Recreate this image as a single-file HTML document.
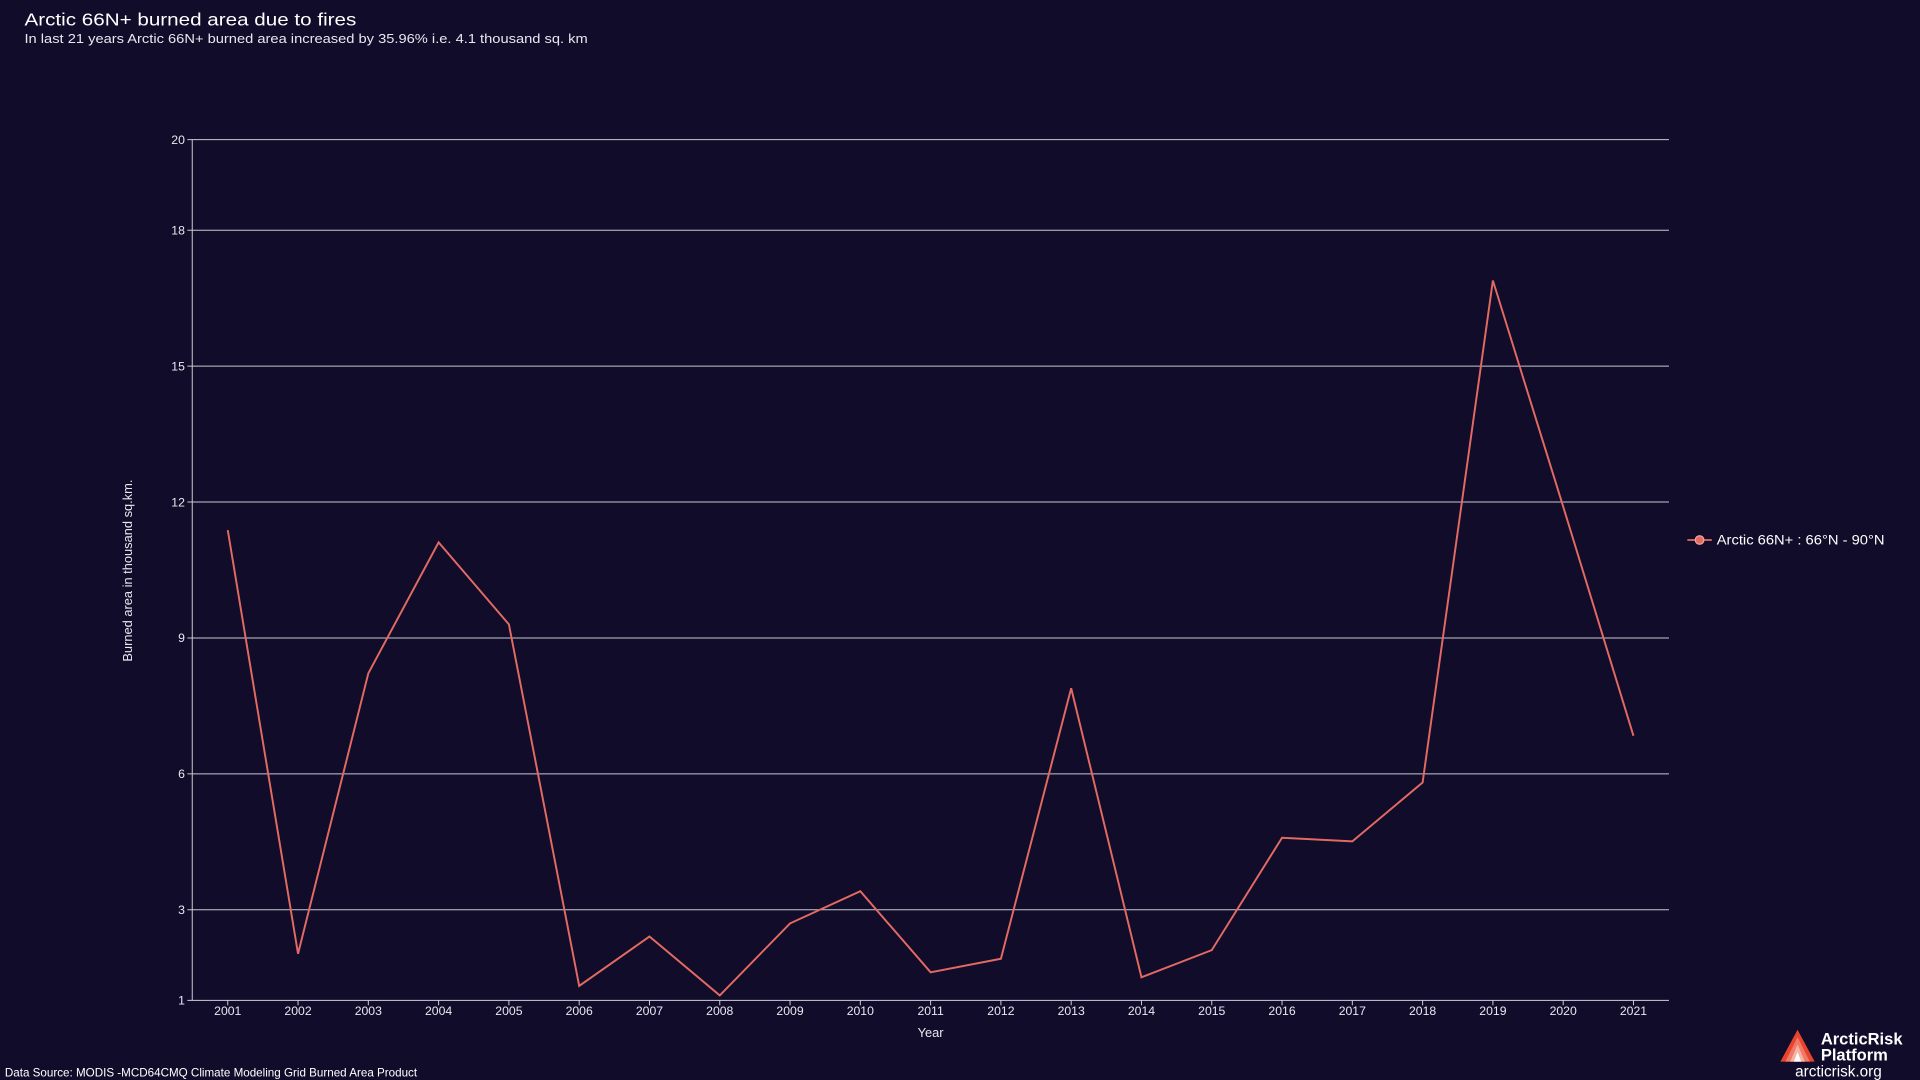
<!DOCTYPE html>
<html><head><meta charset="utf-8"><style>
html,body{margin:0;padding:0;background:#100c2a;width:1920px;height:1080px;overflow:hidden}
svg{display:block;font-family:"Liberation Sans",sans-serif}
</style></head><body>
<svg id="chart" width="1920" height="1080" viewBox="0 0 1568 882" xmlns="http://www.w3.org/2000/svg">
<rect width="1568" height="882" fill="#100c2a"/>
<text x="20" y="21" fill="#ffffff" font-size="14.5" textLength="271" lengthAdjust="spacingAndGlyphs">Arctic 66N+ burned area due to fires</text>
<text x="20" y="35" fill="#e8e8f0" font-size="10.5" textLength="460" lengthAdjust="spacingAndGlyphs">In last 21 years Arctic 66N+ burned area increased by 35.96% i.e. 4.1 thousand sq. km</text>
<g id="grid"></g>
<g id="xaxis"></g>
<path id="line" fill="none" stroke="#e26a62" stroke-width="1.6"/>
<text transform="translate(108,466) rotate(-90)" text-anchor="middle" fill="#e8e8f0" font-size="10.5">Burned area in thousand sq.km.</text>
<text x="760" y="847" text-anchor="middle" fill="#e8e8f0" font-size="10.5">Year</text>
<g>
<line x1="1378" y1="441" x2="1398" y2="441" stroke="#e26a62" stroke-width="1.5"/>
<circle cx="1388" cy="441" r="3.5" fill="#e26a62" stroke="#f3a49c" stroke-width="1"/>
<text x="1402" y="444.5" fill="#ffffff" font-size="11" textLength="137" lengthAdjust="spacingAndGlyphs">Arctic 66N+ : 66°N - 90°N</text>
</g>
<text x="4" y="879" fill="#ffffff" font-size="9.5">Data Source: MODIS -MCD64CMQ Climate Modeling Grid Burned Area Product</text>
<g>
<polygon points="1468,841 1454,867 1482,867" fill="#e8432f"/>
<polygon points="1468,847 1458,867 1478,867" fill="#f07a66"/>
<polygon points="1468,853 1462,867 1474,867" fill="#f6b3a5"/>
<polygon points="1468,859 1465,867 1471,867" fill="#ffffff"/>
<text x="1487" y="853" fill="#fff" font-size="13.5" font-weight="bold">ArcticRisk</text>
<text x="1487" y="866" fill="#fff" font-size="13.5" font-weight="bold">Platform</text>
<text x="1466" y="879" fill="#fff" font-size="12.5">arcticrisk.org</text>
</g>
</svg>
<script>
const years=["2001","2002","2003","2004","2005","2006","2007","2008","2009","2010","2011","2012","2013","2014","2015","2016","2017","2018","2019","2020","2021"];
const burned=[11.38,2.03,8.22,11.11,9.30,1.32,2.41,1.11,2.70,3.41,1.62,1.92,7.89,1.51,2.11,4.59,4.51,5.81,16.89,11.9,6.84];
const yTicks=[1,3,6,9,12,15,18,20];
const NS="http://www.w3.org/2000/svg";
const x0=157,x1=1363,y0=817,y1=114,yMin=1,yMax=20;
const xStep=(1334-186)/(years.length-1);
function xs(i){return 186+i*xStep;}
function ys(v){return y0-(v-yMin)/(yMax-yMin)*(y0-y1);}
const grid=document.getElementById('grid');
yTicks.forEach(t=>{
  const l=document.createElementNS(NS,'line');
  
  
  l.setAttribute('x1',x0-4);l.setAttribute('x2',x1);l.setAttribute('y1',ys(t));l.setAttribute('y2',ys(t));
  l.setAttribute('stroke',t===1?'#cfcfd8':'#c8c8d0');l.setAttribute('stroke-width','0.8');
  grid.appendChild(l);
  const tx=document.createElementNS(NS,'text');
  
  
  tx.setAttribute('x',x0-6);tx.setAttribute('y',ys(t)+3.5);tx.setAttribute('text-anchor','end');
  tx.setAttribute('fill','#e8e8f0');tx.setAttribute('font-size','10');tx.textContent=t;
  grid.appendChild(tx);
});
const ax=document.createElementNS(NS,'line');


ax.setAttribute('x1',x0);ax.setAttribute('x2',x0);ax.setAttribute('y1',y1);ax.setAttribute('y2',y0);
ax.setAttribute('stroke','#cfcfd8');ax.setAttribute('stroke-width','0.8');grid.appendChild(ax);
const xa=document.getElementById('xaxis');
years.forEach((y,i)=>{
  const tk=document.createElementNS(NS,'line');
  
  
  tk.setAttribute('x1',xs(i));tk.setAttribute('x2',xs(i));tk.setAttribute('y1',y0);tk.setAttribute('y2',y0+4);
  tk.setAttribute('stroke','#cfcfd8');tk.setAttribute('stroke-width','0.8');xa.appendChild(tk);
  const tx=document.createElementNS(NS,'text');
  
  
  tx.setAttribute('x',xs(i));tx.setAttribute('y',y0+12);tx.setAttribute('text-anchor','middle');
  tx.setAttribute('fill','#e8e8f0');tx.setAttribute('font-size','10');tx.textContent=y;
  xa.appendChild(tx);
});
document.getElementById('line').setAttribute('d',burned.map((v,i)=>(i?'L':'M')+xs(i)+','+ys(v)).join(' '));
</script>
</body></html>
